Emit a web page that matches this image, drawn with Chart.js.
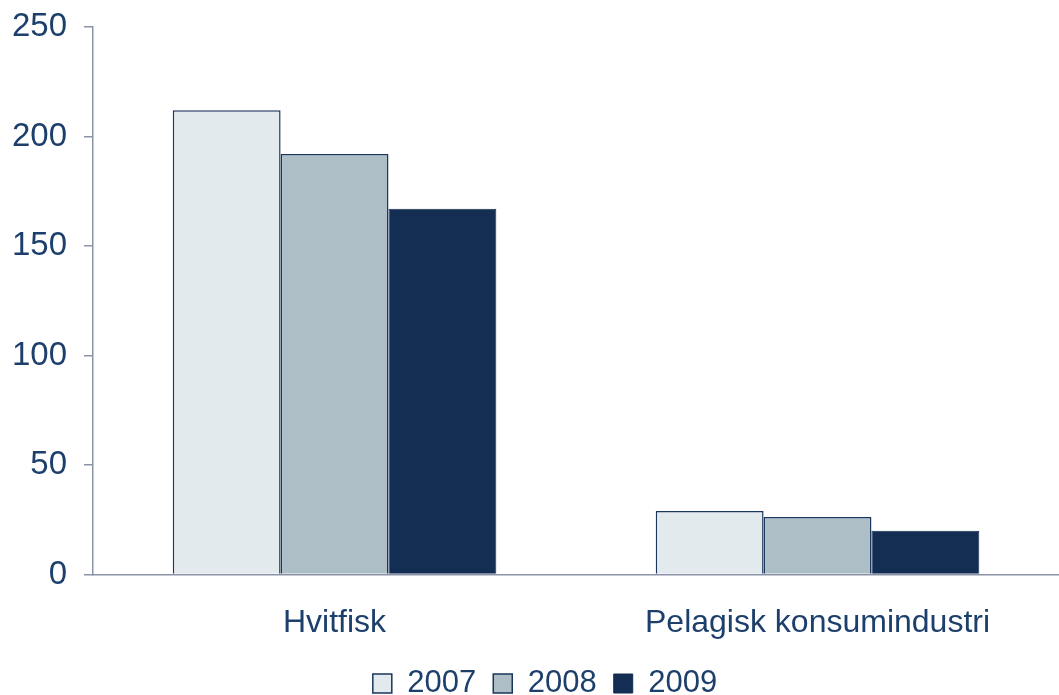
<!DOCTYPE html>
<html>
<head>
<meta charset="utf-8">
<script src="https://cdn.jsdelivr.net/npm/chart.js@4"></script>
<style>
    body { margin: 0; background: #fff; }
    #wrap { width: 1059px; height: 695px; }
</style>
</head>
<body>
<div id="wrap"><canvas id="chart1"></canvas></div>
<script>
const categories = ['Hvitfisk', 'Pelagisk konsumindustri'];
const years = ['2007', '2008', '2009'];
const values_2007 = [212, 29];
const values_2008 = [192, 26.3];
const values_2009 = [167, 20];
const y_ticks = [0, 50, 100, 150, 200, 250];

const textColor = '#1d3f6b';
const axisColor = '#8a93a8';

// legend: move it up and a bit to the right after layout
const legend_shift = {
    id: 'legend_shift',
    afterLayout(chart) {
        const legend = chart.legend;
        legend.top -= 12;
        legend.bottom -= 12;
        legend.left += 18;
        legend.right += 18;
    },
};

const data_fisk = {
    labels: categories,
    datasets: [{
        label: years[0],
        data: values_2007,
        backgroundColor: '#e2eaee',
        borderColor: '#1b365d',
        borderWidth: 1.5,
    }, {
        label: years[1],
        data: values_2008,
        backgroundColor: '#aebec6',
        borderColor: '#1b365d',
        borderWidth: 1.5,
    }, {
        label: years[2],
        data: values_2009,
        backgroundColor: '#132e52',
        borderColor: '#132e52',
        borderWidth: 1,
    }],
};

const config_fisk = {
    type: 'bar',
    data: data_fisk,
    plugins: [legend_shift],
    options: {
        responsive: true,
        maintainAspectRatio: false,
        animation: false,
        layout: {
            padding: { left: -5, top: 0, right: 0, bottom: -26 },
        },
        datasets: {
            bar: {
                categoryPercentage: 0.67,
                barPercentage: 1.0,
            },
        },
        plugins: {
            legend: {
                position: 'bottom',
                labels: {
                    color: textColor,
                    boxWidth: 19,
                    boxHeight: 19,
                    padding: 17,
                    font: { family: 'Liberation Sans', size: 31 },
                },
            },
            tooltip: { enabled: false },
        },
        scales: {
            x: {
                grid: { display: false },
                border: { display: true, color: axisColor, width: 1.5 },
                ticks: {
                    color: textColor,
                    padding: 21,
                    font: { family: 'Liberation Sans', size: 32 },
                },
            },
            y: {
                min: y_ticks[0],
                max: y_ticks[y_ticks.length - 1],
                afterBuildTicks: function (axis) {
                    axis.ticks = y_ticks.map(v => ({ value: v }));
                },
                grid: {
                    drawOnChartArea: false,
                    drawTicks: true,
                    tickLength: 9,
                    color: axisColor,
                    lineWidth: 1.5,
                },
                border: { display: true, color: axisColor, width: 1.5 },
                ticks: {
                    color: textColor,
                    padding: 17,
                    font: { family: 'Liberation Sans', size: 33, lineHeight: 0.6 },
                },
            },
        },
    },
};

const ctx_fisk = document.getElementById('chart1').getContext('2d');
const fisk = new Chart(ctx_fisk, config_fisk);
</script>
</body>
</html>
